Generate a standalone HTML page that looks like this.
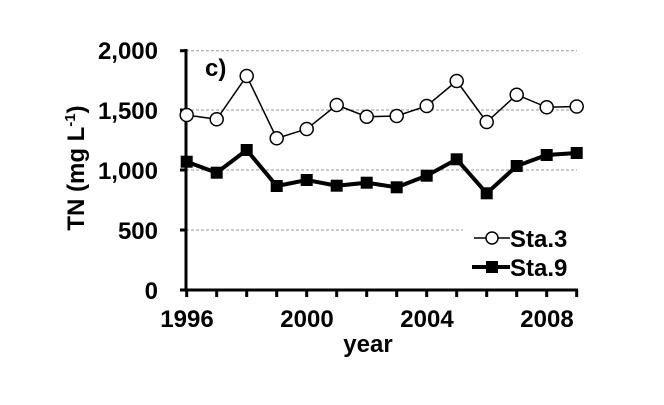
<!DOCTYPE html>
<html><head><meta charset="utf-8"><style>body{margin:0;background:#fff}svg{display:block}text{font-family:"Liberation Sans",Arial,sans-serif;font-weight:bold;fill:#000}</style></head><body>
<svg width="664" height="405" viewBox="0 0 664 405" xmlns="http://www.w3.org/2000/svg">
<g stroke="#999" stroke-width="1" stroke-dasharray="3,2">
<line x1="186" y1="50.7" x2="577" y2="50.7"/>
<line x1="186" y1="110" x2="577" y2="110"/>
<line x1="186" y1="170" x2="577" y2="170"/>
<line x1="186" y1="230" x2="463" y2="230"/>
</g>
<g stroke="#000" stroke-width="3">
<line x1="186" y1="49" x2="186" y2="291"/>
<line x1="180" y1="50.7" x2="186" y2="50.7"/><line x1="180" y1="110" x2="186" y2="110"/><line x1="180" y1="170" x2="186" y2="170"/><line x1="180" y1="230" x2="186" y2="230"/>
<line x1="180" y1="290" x2="578" y2="290"/>
</g>
<g stroke="#000" stroke-width="3">
<line x1="186.7" y1="290" x2="186.7" y2="297"/><line x1="216.7" y1="290" x2="216.7" y2="297"/><line x1="246.7" y1="290" x2="246.7" y2="297"/><line x1="276.7" y1="290" x2="276.7" y2="297"/><line x1="306.7" y1="290" x2="306.7" y2="297"/><line x1="336.7" y1="290" x2="336.7" y2="297"/><line x1="366.7" y1="290" x2="366.7" y2="297"/><line x1="396.7" y1="290" x2="396.7" y2="297"/><line x1="426.7" y1="290" x2="426.7" y2="297"/><line x1="456.7" y1="290" x2="456.7" y2="297"/><line x1="486.7" y1="290" x2="486.7" y2="297"/><line x1="516.7" y1="290" x2="516.7" y2="297"/><line x1="546.7" y1="290" x2="546.7" y2="297"/><line x1="576.7" y1="290" x2="576.7" y2="297"/>
</g>
<g font-size="24" text-anchor="end">
<text x="158" y="59">2,000</text><text x="158" y="119">1,500</text><text x="158" y="179">1,000</text><text x="158" y="239">500</text><text x="158" y="299">0</text>
</g>
<g font-size="24" text-anchor="middle">
<text x="187" y="327">1996</text><text x="307" y="327">2000</text><text x="427" y="327">2004</text><text x="547" y="327">2008</text>
<text x="368" y="352">year</text>
</g>
<text x="84" y="168" font-size="24" text-anchor="middle" transform="rotate(-90 84 168)">TN (mg L<tspan dy="-9" font-size="15">-1</tspan><tspan dy="9">)</tspan></text>
<text x="205" y="76" font-size="24">c)</text>
<polyline fill="none" stroke="#000" stroke-width="1.5" points="186.7,115 216.7,119.3 246.7,76 276.7,138.3 306.7,129 336.7,105 366.7,116.7 396.7,116 426.7,106 456.7,81 486.7,122 516.7,94.7 546.7,107.3 576.7,106.5"/>
<g fill="#fff" stroke="#000" stroke-width="1.5">
<circle cx="186.7" cy="115" r="6.5"/><circle cx="216.7" cy="119.3" r="6.5"/><circle cx="246.7" cy="76" r="6.5"/><circle cx="276.7" cy="138.3" r="6.5"/><circle cx="306.7" cy="129" r="6.5"/><circle cx="336.7" cy="105" r="6.5"/><circle cx="366.7" cy="116.7" r="6.5"/><circle cx="396.7" cy="116" r="6.5"/><circle cx="426.7" cy="106" r="6.5"/><circle cx="456.7" cy="81" r="6.5"/><circle cx="486.7" cy="122" r="6.5"/><circle cx="516.7" cy="94.7" r="6.5"/><circle cx="546.7" cy="107.3" r="6.5"/><circle cx="576.7" cy="106.5" r="6.5"/>
</g>
<polyline fill="none" stroke="#000" stroke-width="4" points="186.7,161.7 216.7,172.7 246.7,150 276.7,186 306.7,180 336.7,185.7 366.7,182.7 396.7,187.3 426.7,175.7 456.7,159.3 486.7,193.3 516.7,166 546.7,155 576.7,153"/>
<g fill="#000">
<rect x="180.7" y="155.7" width="12" height="12"/><rect x="210.7" y="166.7" width="12" height="12"/><rect x="240.7" y="144" width="12" height="12"/><rect x="270.7" y="180" width="12" height="12"/><rect x="300.7" y="174" width="12" height="12"/><rect x="330.7" y="179.7" width="12" height="12"/><rect x="360.7" y="176.7" width="12" height="12"/><rect x="390.7" y="181.3" width="12" height="12"/><rect x="420.7" y="169.7" width="12" height="12"/><rect x="450.7" y="153.3" width="12" height="12"/><rect x="480.7" y="187.3" width="12" height="12"/><rect x="510.7" y="160" width="12" height="12"/><rect x="540.7" y="149" width="12" height="12"/><rect x="570.7" y="147" width="12" height="12"/>
</g>
<line x1="474" y1="238" x2="510" y2="238" stroke="#000" stroke-width="1.5"/>
<circle cx="492" cy="238" r="6" fill="#fff" stroke="#000" stroke-width="1.5"/>
<line x1="472" y1="267" x2="510" y2="267" stroke="#000" stroke-width="4"/>
<rect x="486" y="261" width="12" height="12" fill="#000"/>
<text x="510" y="247" font-size="24">Sta.3</text>
<text x="510" y="276" font-size="24">Sta.9</text>
</svg>
</body></html>
